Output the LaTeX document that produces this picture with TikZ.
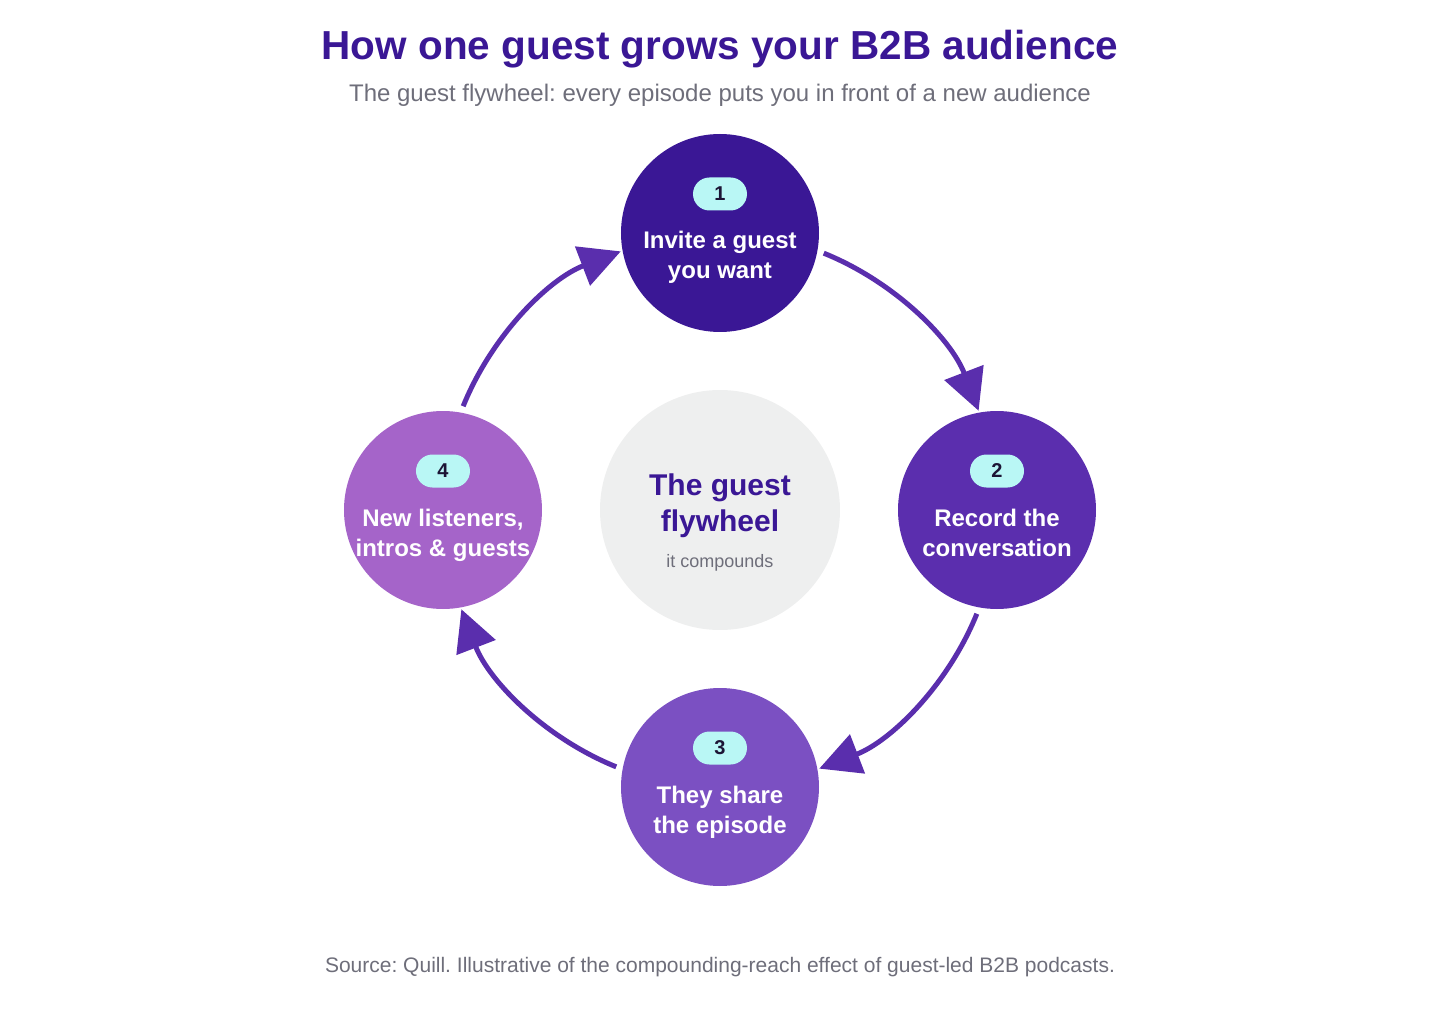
\documentclass[tikz,border=0pt]{standalone}
\usepackage{fontspec}
\setmainfont{Liberation Sans}
\usetikzlibrary{arrows.meta}
\frenchspacing
\definecolor{stepone}{HTML}{3A1795}
\definecolor{steptwo}{HTML}{5B2EAE}
\definecolor{stepthree}{HTML}{7B50C2}
\definecolor{stepfour}{HTML}{A564C9}
\definecolor{flowpurple}{HTML}{5A2EAD}
\definecolor{hubgray}{HTML}{EEEFEF}
\definecolor{badgecyan}{HTML}{B9F7F5}
\definecolor{badgeink}{HTML}{1C1535}
\definecolor{notegray}{HTML}{6E6E7A}

\begin{document}
\begin{tikzpicture}[x=1pt,y=1pt,
  stepdisc/.style={circle,minimum size=198pt,inner sep=0pt},
  badge/.style={rounded corners=16.5pt,fill=badgecyan,minimum width=54pt,minimum height=33pt,inner sep=0pt,text=badgeink,font=\bfseries\fontsize{20}{20}\selectfont},
  steplabel/.style={anchor=base,align=center,text=white,font=\bfseries\fontsize{24}{30}\selectfont},
  flow/.style={line width=5pt,draw=flowpurple,-{Triangle[length=41pt,width=41pt]}}]
  \useasboundingbox (-720,-510) rectangle (720,510);
  % titles
  \node[anchor=base,text=stepone,font=\bfseries\fontsize{40.5}{48}\selectfont] (title) at (0,450) {How one guest grows your B2B audience};
  \node[anchor=base,text=notegray,font=\fontsize{24}{28}\selectfont] (subtitle) at (0,408) {The guest flywheel: every episode puts you in front of a new audience};
  % hub
  \coordinate (hub) at (0,0);
  \node[circle,fill=hubgray,minimum size=240pt,inner sep=0pt] (core) at (hub) {};
  \node[anchor=base,align=center,text=stepone,font=\bfseries\fontsize{30}{36}\selectfont] (coretitle) at (0,-21) {The guest\\flywheel};
  \node[anchor=base,text=notegray,font=\fontsize{18}{22}\selectfont] (corenote) at (0,-57) {it compounds};
  % steps
  \foreach \n/\a/\c/\t in {1/90/stepone/{Invite a guest\\you want},2/0/steptwo/{Record the\\conversation},3/-90/stepthree/{They share\\the episode},4/180/stepfour/{New listeners,\\intros \& guests}}
  {
    \node[stepdisc,fill=\c] (s\n) at (\a:277) {};
    \node[badge] (b\n) at ([yshift=39pt]s\n.center) {\n};
    \node[steplabel] (l\n) at ([yshift=-46pt]s\n.center) {\t};
  }
  % arrows round the wheel
  \foreach \n/\a in {1/68,2/-22,3/-112,4/158}
  {
    \coordinate (f\n) at (\a:277);
    \draw[flow] (f\n) arc[start angle=\a, end angle=\a-47, radius=277pt];
  }
  % source
  \node[anchor=base,text=notegray,font=\fontsize{21}{25}\selectfont] (source) at (0,-462) {Source: Quill. Illustrative of the compounding-reach effect of guest-led B2B podcasts.};
\end{tikzpicture}
\end{document}
